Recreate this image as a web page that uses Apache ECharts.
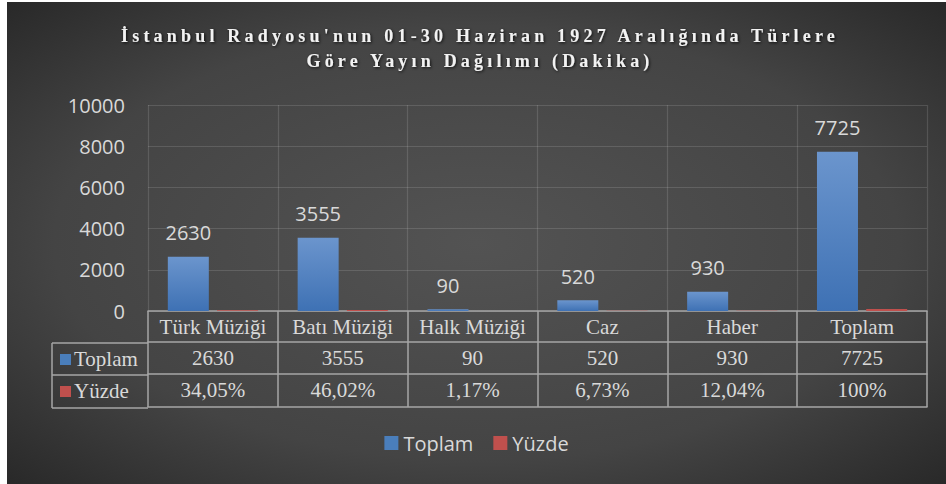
<!DOCTYPE html>
<html>
<head>
<meta charset="utf-8">
<script src="https://cdn.jsdelivr.net/npm/echarts@6/dist/echarts.min.js"></script>
<style>
html, body { margin: 0; padding: 0; background: #fff; }
#chart { position: absolute; left: 7px; top: 2px; width: 939px; height: 482px; }
/* spaced-out title, like the original */
#chart text[style*="Times New Roman"] { letter-spacing: 4.2px; }
</style>
</head>
<body>
<div id="chart"></div>
<script>
// data
const categories = ['Türk Müziği', 'Batı Müziği', 'Halk Müziği', 'Caz', 'Haber', 'Toplam'];
const toplam = [2630, 3555, 90, 520, 930, 7725];
const yuzde = [34.05, 46.02, 1.17, 6.73, 12.04, 100];
const yTicks = [0, 2000, 4000, 6000, 8000, 10000];

const pct = v => String(v).replace('.', ',') + '%';

const txt = '#d9d9d9';
const border = '#a6a6a6';
const serif = "'Liberation Serif', serif";
const sans = "'Open Sans', sans-serif";

let myChart = echarts.init(document.getElementById('chart'), null, { renderer: 'svg' });

// table rows under the plot, one category axis per row
function rowAxis(offset, data, showLabel) {
  return {
    type: 'category',
    position: 'bottom',
    offset: offset,
    data: data,
    axisLine: { show: true, lineStyle: { color: border, width: 1.5 } },
    axisTick: { show: false },
    splitLine: { show: false },
    axisLabel: {
      show: showLabel, interval: 0, margin: 5,
      color: txt, fontFamily: serif, fontSize: 21, lineHeight: 21
    }
  };
}

const firstAxis = rowAxis(0, categories, true);
firstAxis.axisTick = { show: true, interval: 0, length: 96, lineStyle: { color: border, width: 1.5 } };
firstAxis.splitLine = { show: true, interval: 0, lineStyle: { color: 'rgba(255,255,255,0.13)', width: 1.2 } };

var option = {
  backgroundColor: {
    type: 'radial', x: 0.5, y: 0.5, r: 0.75,
    colorStops: [
      { offset: 0, color: '#535353' },
      { offset: 0.6, color: '#444444' },
      { offset: 1, color: '#242424' }
    ]
  },
  title: {
    text: "İstanbul Radyosu'nun 01-30 Haziran 1927 Aralığında Türlere\nGöre Yayın Dağılımı (Dakika)",
    left: 468, top: 16, textAlign: 'center',
    textStyle: {
      fontFamily: "'Times New Roman', 'Liberation Serif', serif",
      fontWeight: 'bold', fontSize: 18, lineHeight: 25, color: '#f2f2f2',
      textShadowColor: 'rgba(0,0,0,0.8)', textShadowBlur: 3, textShadowOffsetX: 1, textShadowOffsetY: 1
    }
  },
  legend: {
    top: 426, left: 'center',
    icon: 'rect', itemWidth: 14, itemHeight: 14, itemGap: 20,
    textStyle: { color: txt, fontFamily: sans, fontSize: 20 },
    data: [
      { name: 'Toplam', itemStyle: { color: '#4a7ebb' } },
      { name: 'Yüzde', itemStyle: { color: '#c0504d' } }
    ]
  },
  grid: { left: 141, right: 19, top: 103, bottom: 173 },
  xAxis: [
    firstAxis,
    rowAxis(31, toplam.map(String), true),
    rowAxis(63, yuzde.map(pct), true),
    rowAxis(96, categories, false)
  ],
  yAxis: {
    type: 'value',
    min: yTicks[0], max: yTicks[yTicks.length - 1], interval: yTicks[1] - yTicks[0],
    axisLine: { show: false }, axisTick: { show: false },
    axisLabel: { color: txt, fontFamily: sans, fontSize: 20, margin: 23, formatter: v => String(v) },
    splitLine: { lineStyle: { color: 'rgba(255,255,255,0.13)', width: 1.2 } }
  },
  series: [
    {
      name: 'Toplam', type: 'bar', data: toplam,
      barWidth: 41, barGap: '20%',
      itemStyle: {
        color: new echarts.graphic.LinearGradient(0, 0, 0, 1, [
          { offset: 0, color: '#6b95cd' },
          { offset: 1, color: '#3e71b4' }
        ])
      },
      label: { show: true, position: 'top', distance: 14, color: txt, fontFamily: sans, fontSize: 20 }
    },
    {
      name: 'Yüzde', type: 'bar', data: yuzde,
      barWidth: 41,
      itemStyle: { color: '#c0504d' }
    }
  ],
  graphic: [
    { type: 'line', shape: { x1: 45, y1: 341, x2: 45, y2: 406 }, style: { stroke: border, lineWidth: 1.5 } },
    { type: 'line', shape: { x1: 45, y1: 341, x2: 141, y2: 341 }, style: { stroke: border, lineWidth: 1.5 } },
    { type: 'line', shape: { x1: 45, y1: 373, x2: 141, y2: 373 }, style: { stroke: border, lineWidth: 1.5 } },
    { type: 'line', shape: { x1: 45, y1: 406, x2: 141, y2: 406 }, style: { stroke: border, lineWidth: 1.5 } },
    { type: 'rect', shape: { x: 53, y: 352, width: 11, height: 11 }, style: { fill: '#4a7ebb' } },
    { type: 'text', x: 67, y: 357, style: { text: 'Toplam', fill: txt, font: "21px 'Liberation Serif'", verticalAlign: 'middle' } },
    { type: 'rect', shape: { x: 53, y: 384, width: 11, height: 11 }, style: { fill: '#c0504d' } },
    { type: 'text', x: 67, y: 389, style: { text: 'Yüzde', fill: txt, font: "21px 'Liberation Serif'", verticalAlign: 'middle' } }
  ]
};

myChart.setOption(option);
</script>
</body>
</html>
